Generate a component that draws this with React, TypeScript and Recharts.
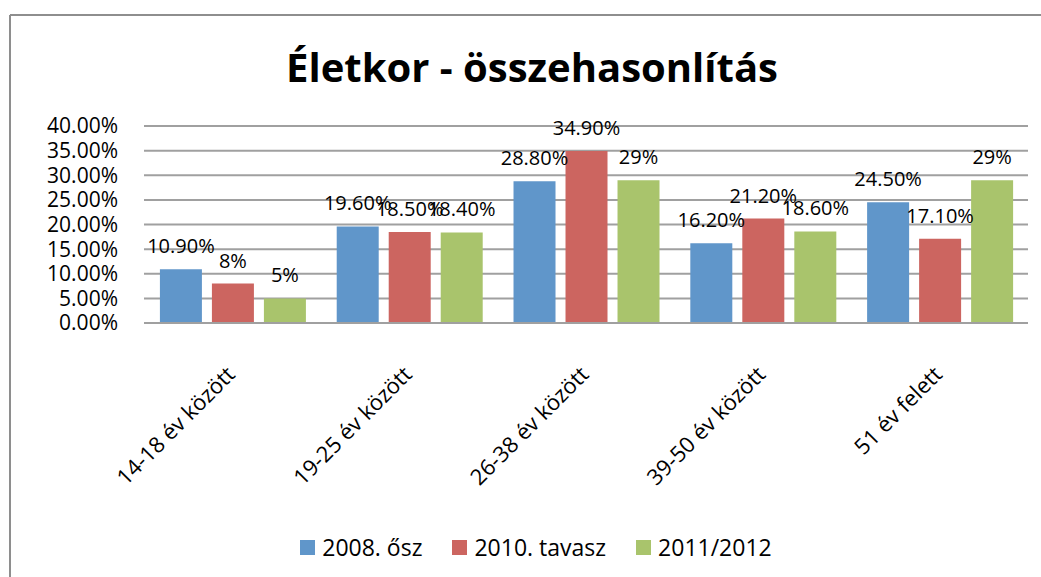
import { BarChart, Bar, XAxis, YAxis, CartesianGrid, Legend, LabelList } from "recharts";

const categories = ["14-18 év között", "19-25 év között", "26-38 év között", "39-50 év között", "51 év felett"];
const osz2008 = [10.9, 19.6, 28.8, 16.2, 24.5];
const tavasz2010 = [8, 18.5, 34.9, 21.2, 17.1];
const ev2011 = [5, 18.4, 29, 18.6, 29];
const yTicks = [0, 5, 10, 15, 20, 25, 30, 35, 40];

const series = [
  { key: "a", name: "2008. ősz", color: "#6096CA" },
  { key: "b", name: "2010. tavasz", color: "#CC6560" },
  { key: "c", name: "2011/2012", color: "#A9C46C" },
];

const data = categories.map((cat, i) => ({
  cat,
  a: osz2008[i],
  b: tavasz2010[i],
  c: ev2011[i],
}));

const FONT = "'Open Sans', sans-serif";

// labels keep the original mix: "8%" for whole numbers, "10.90%" otherwise
const fmtLabel = (v: any) => (Number.isInteger(v) ? `${v}%` : `${Number(v).toFixed(2)}%`);

const CategoryTick = ({ x, y, payload }: any) => (
  <text
    transform={`translate(${x + 4},${y + 45}) rotate(-45)`}
    textAnchor="end"
    fontSize={22}
    fontFamily={FONT}
    fill="#000"
  >
    {payload.value}
  </text>
);

const LegendContent = () => (
  <div
    style={{
      display: "flex",
      justifyContent: "center",
      fontFamily: FONT,
      fontSize: 23,
      color: "#000",
      paddingLeft: 34,
    }}
  >
    {series.map((s) => (
      <div key={s.key} style={{ display: "flex", alignItems: "center", margin: "0 15px" }}>
        <span style={{ width: 15, height: 15, background: s.color, display: "inline-block", marginRight: 7 }} />
        <span>{s.name}</span>
      </div>
    ))}
  </div>
);

export default function App() {
  return (
    <div style={{ position: "absolute", left: 0, top: 0, width: 1041, height: 577, background: "#fff" }}>
      <svg width={1041} height={577} style={{ position: "absolute", left: 0, top: 0 }}>
        <line x1={10} y1={15} x2={1041} y2={15} stroke="#8E8E8E" strokeWidth={2} />
        <line x1={10} y1={15} x2={10} y2={577} stroke="#8E8E8E" strokeWidth={2} />
        <text x={532} y={82} textAnchor="middle" fontSize={40} fontWeight="bold" fontFamily={FONT} fill="#000">
          Életkor - összehasonlítás
        </text>
      </svg>
      <div style={{ position: "absolute", left: 0, top: 0 }}>
        <BarChart
          width={1041}
          height={577}
          data={data}
          margin={{ top: 126, right: 13, left: 10, bottom: 10 }}
          barCategoryGap="9%"
          barGap={10}
        >
          <CartesianGrid vertical={false} stroke="#A0A0A0" strokeWidth={2} />
          <XAxis
            dataKey="cat"
            interval={0}
            axisLine={{ stroke: "#A0A0A0", strokeWidth: 2 }}
            tickLine={false}
            height={200}
            tick={<CategoryTick />}
          />
          <YAxis
            domain={[0, 40]}
            ticks={yTicks}
            interval={0}
            width={134}
            axisLine={false}
            tickLine={false}
            tickSize={6}
            tickMargin={20}
            tickFormatter={(v) => `${Number(v).toFixed(2)}%`}
            tick={{ fontSize: 21, fontFamily: FONT, fill: "#000" }}
          />
          <Legend verticalAlign="bottom" height={44} wrapperStyle={{ bottom: 2 }} content={<LegendContent />} />
          {series.map((s) => (
            <Bar key={s.key} dataKey={s.key} name={s.name} fill={s.color} isAnimationActive={false}>
              <LabelList
                dataKey={s.key}
                position="top"
                offset={16}
                formatter={fmtLabel}
                style={{ fontSize: 20, fontFamily: FONT, fill: "#000" }}
              />
            </Bar>
          ))}
        </BarChart>
      </div>
    </div>
  );
}
